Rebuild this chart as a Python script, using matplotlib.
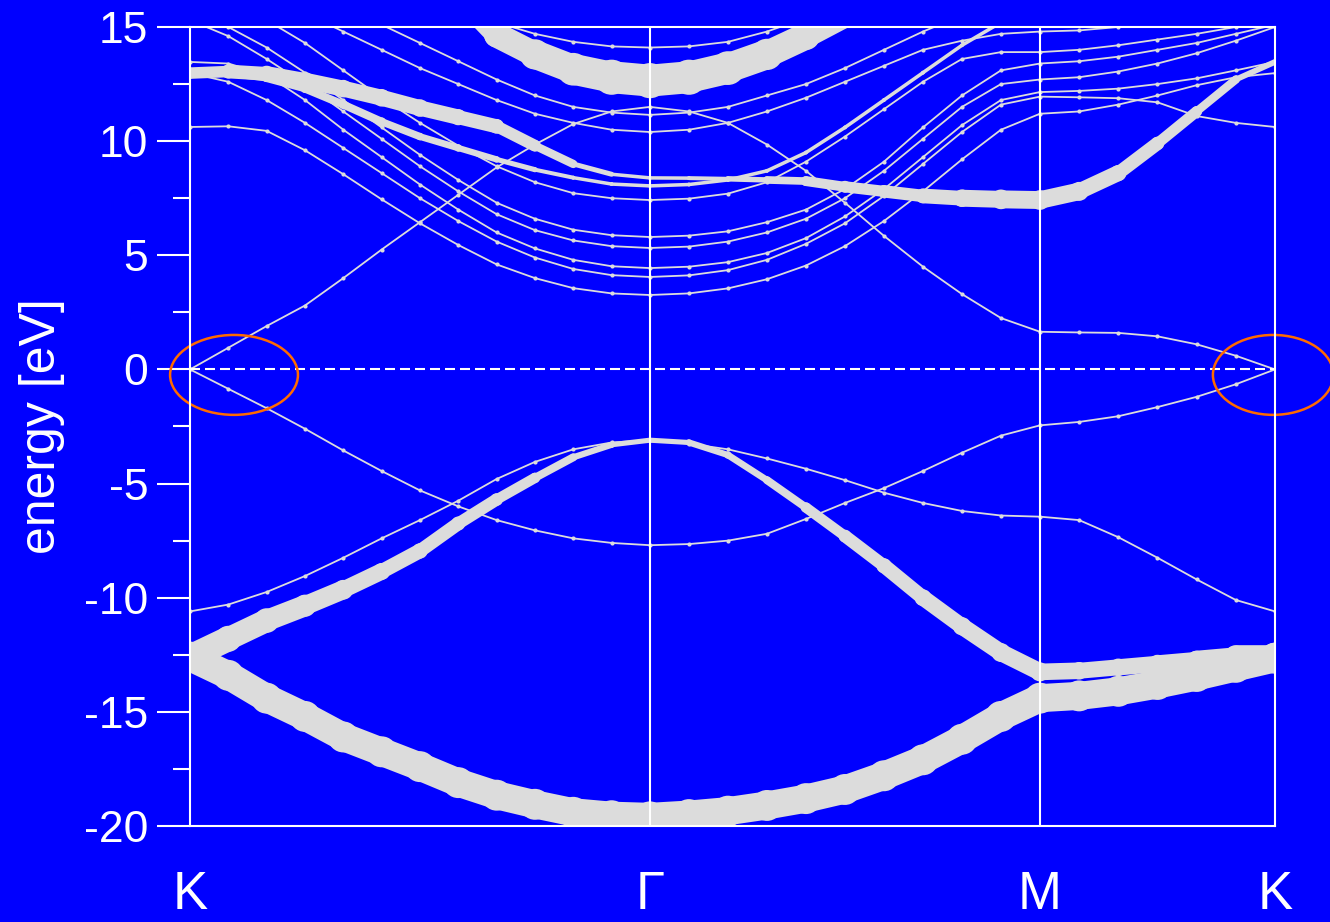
import matplotlib
matplotlib.use("Agg")
import matplotlib.pyplot as plt
import numpy as np
from matplotlib.collections import LineCollection
from matplotlib.patches import Ellipse

plt.rcParams["axes.unicode_minus"] = False

# path K - Γ - M - K
sym_labels = ["K", "Γ", "M", "K"]
sym_k = [0.0, 1.0, 1.848, 2.359]
n_seg = [12, 10, 6]

# band energies (eV) at the path nodes: 13 on K-Γ, 10 on Γ-M, 6 on M-K
sigma_1 = [-12.6, -13.4, -14.4, -15.2, -16.1, -16.75, -17.4, -18.1, -18.65, -19.05, -19.4, -19.55, -19.6,
           -19.5, -19.35, -19.1, -18.8, -18.4, -17.8, -17.1, -16.2, -15.2, -14.4,
           -14.3, -14.1, -13.8, -13.45, -13.05, -12.65]
sigma_2 = [-12.6, -11.8, -11.0, -10.35, -9.65, -8.85, -7.95, -6.75, -5.7, -4.75, -3.85, -3.3, -3.1,
           -3.2, -3.75, -4.85, -6.05, -7.3, -8.6, -10.0, -11.25, -12.4, -13.25,
           -13.2, -13.05, -12.9, -12.75, -12.6, -12.6]
sigma_3 = [-10.6, -10.3, -9.75, -9.05, -8.25, -7.4, -6.6, -5.75, -4.8, -4.05, -3.5, -3.2, -3.1,
           -3.25, -3.5, -3.9, -4.35, -4.85, -5.4, -5.85, -6.2, -6.4, -6.45,
           -6.6, -7.35, -8.25, -9.2, -10.1, -10.6]
pi_band = [0.0, -0.85, -1.7, -2.6, -3.55, -4.45, -5.3, -6.0, -6.6, -7.05, -7.4, -7.6, -7.7,
           -7.65, -7.5, -7.2, -6.55, -5.85, -5.2, -4.45, -3.65, -2.9, -2.45,
           -2.3, -2.05, -1.65, -1.2, -0.65, 0.0]
pi_star = [0.0, 0.95, 1.9, 2.8, 4.0, 5.25, 6.45, 7.65, 8.85, 9.85, 10.75, 11.3, 11.5,
           11.3, 10.8, 9.85, 8.7, 7.3, 5.85, 4.5, 3.3, 2.25, 1.65,
           1.62, 1.6, 1.45, 1.1, 0.6, 0.0]
c_1 = [10.62, 10.65, 10.45, 9.6, 8.55, 7.45, 6.4, 5.45, 4.6, 4.0, 3.56, 3.33, 3.26,
       3.33, 3.55, 3.95, 4.55, 5.4, 6.5, 7.8, 9.2, 10.5, 11.2,
       11.3, 11.6, 12.0, 12.45, 12.8, 12.98]
c_2 = [12.98, 12.6, 11.8, 10.8, 9.7, 8.6, 7.5, 6.5, 5.6, 4.9, 4.4, 4.13, 4.05,
       4.12, 4.35, 4.8, 5.5, 6.4, 7.6, 9.0, 10.4, 11.6, 11.95,
       11.92, 11.88, 11.7, 11.1, 10.8, 10.62]
c_3 = [13.47, 13.4, 12.9, 11.8, 10.5, 9.3, 8.1, 7.0, 6.0, 5.3, 4.8, 4.52, 4.44,
       4.5, 4.7, 5.1, 5.75, 6.7, 7.9, 9.3, 10.7, 11.8, 12.15,
       12.2, 12.3, 12.5, 12.75, 13.1, 13.47]
c_4 = [15.3, 14.6, 13.6, 12.5, 11.3, 10.1, 8.9, 7.8, 6.8, 6.1, 5.65, 5.4, 5.32,
       5.38, 5.6, 6.0, 6.6, 7.5, 8.7, 10.1, 11.5, 12.5, 12.7,
       12.8, 13.05, 13.4, 13.85, 14.4, 15.0]
c_5 = [15.6, 15.0, 14.1, 13.0, 11.8, 10.6, 9.4, 8.3, 7.3, 6.6, 6.12, 5.88, 5.8,
       5.86, 6.05, 6.45, 7.0, 7.9, 9.1, 10.6, 12.0, 13.1, 13.4,
       13.5, 13.7, 14.0, 14.3, 14.7, 15.1]
c_6 = [16.5, 16.0, 15.3, 14.3, 13.1, 11.9, 10.8, 9.8, 8.9, 8.2, 7.72, 7.5, 7.42,
       7.48, 7.7, 8.2, 9.1, 10.2, 11.4, 12.6, 13.6, 13.9, 13.9,
       14.0, 14.2, 14.45, 14.7, 15.0, 15.3]
c_7 = [18.0, 17.2, 16.4, 15.6, 14.8, 14.0, 13.2, 12.5, 11.8, 11.2, 10.8, 10.5, 10.4,
       10.5, 10.8, 11.3, 11.9, 12.6, 13.3, 14.0, 14.4, 14.7, 14.8,
       14.85, 15.0, 15.3, 15.6, 16.0, 16.4]
c_8 = [19.0, 18.3, 17.5, 16.7, 15.9, 15.1, 14.3, 13.5, 12.7, 12.0, 11.5, 11.25, 11.15,
       11.25, 11.5, 12.0, 12.5, 13.2, 14.0, 14.8, 15.5, 16.0, 16.5,
       16.8, 17.0, 17.0, 17.0, 17.0, 17.0]
c_9 = [21.0, 20.5, 20.0, 19.5, 19.0, 18.5, 17.5, 16.5, 15.2, 14.7, 14.35, 14.15, 14.1,
       14.15, 14.35, 14.8, 15.4, 16.2, 17.0, 18.0, 19.0, 20.0, 20.5,
       21.0, 21.0, 21.0, 21.0, 21.0, 21.0]
fat_a = [12.98, 13.05, 12.95, 12.65, 12.3, 11.9, 11.45, 11.05, 10.65, 9.8, 9.0, 8.55, 8.39,
         8.38, 8.35, 8.3, 8.25, 8.0, 7.8, 7.6, 7.5, 7.45, 7.42,
         7.8, 8.6, 9.9, 11.3, 12.7, 13.47]
fat_b = [13.0, 12.95, 12.75, 12.3, 11.6, 10.85, 10.2, 9.7, 9.2, 8.75, 8.4, 8.12, 8.04,
         8.1, 8.3, 8.7, 9.5, 10.6, 11.8, 13.0, 14.2, 15.2, 16.0,
         16.3, 16.5, 16.6, 16.6, 16.5, 16.4]
fat_top = [21.0, 20.5, 20.0, 19.5, 19.0, 18.5, 17.5, 16.4, 14.65, 13.8, 13.15, 12.8, 12.65,
           12.8, 13.2, 13.8, 14.6, 15.5, 16.5, 17.5, 18.5, 19.5, 20.0,
           20.5, 21.0, 21.0, 21.0, 21.0, 21.0]

# projected weights of the fat bands
w_sigma_1 = [0.88] * 29
w_sigma_2 = [0.82, 0.74, 0.7, 0.63, 0.56, 0.48, 0.44, 0.4, 0.36, 0.29, 0.21, 0.18, 0.14,
             0.18, 0.21, 0.21, 0.29, 0.36, 0.43, 0.48, 0.52, 0.54, 0.54,
             0.5, 0.5, 0.52, 0.56, 0.66, 0.82]
w_fat_a = [0.32, 0.4, 0.46, 0.5, 0.5, 0.5, 0.5, 0.46, 0.42, 0.32, 0.2, 0.11, 0.11,
           0.11, 0.14, 0.2, 0.28, 0.34, 0.36, 0.42, 0.5, 0.56, 0.56,
           0.54, 0.46, 0.38, 0.3, 0.22, 0.14]
w_fat_b = [0.11, 0.18, 0.21, 0.25, 0.25, 0.25, 0.21, 0.21, 0.18, 0.14, 0.11, 0.11, 0.11,
           0.11, 0.11, 0.11, 0.11, 0.11, 0.11, 0.11, 0.11, 0.11, 0.11,
           0.11, 0.11, 0.11, 0.11, 0.11, 0.11]
w_fat_top = [0.64, 0.64, 0.64, 0.64, 0.64, 0.64, 0.64, 0.64, 0.71, 0.86, 0.93, 1.0, 1.0,
             1.0, 0.96, 0.89, 0.79, 0.71, 0.64, 0.64, 0.64, 0.64, 0.64,
             0.64, 0.64, 0.64, 0.64, 0.64, 0.64]

blue = "#0000ff"
band_color = "#dcdcdc"

k = np.concatenate([np.linspace(sym_k[0], sym_k[1], n_seg[0] + 1),
                    np.linspace(sym_k[1], sym_k[2], n_seg[1] + 1)[1:],
                    np.linspace(sym_k[2], sym_k[3], n_seg[2] + 1)[1:]])

fig = plt.figure(figsize=(13.3, 9.22), dpi=100, facecolor=blue)
ax = fig.add_axes([190 / 1330, 96 / 922, 1085 / 1330, 799 / 922])
ax.set_facecolor(blue)

thin = [sigma_3, pi_band, pi_star, c_1, c_2, c_3, c_4, c_5, c_6, c_7, c_8, c_9]
for e in thin:
    ax.plot(k, e, color=band_color, lw=1.3, marker="o", ms=3, mec="none", zorder=2)


def fat_band(e, w, scale=23.0):
    # thick line whose width follows the orbital weight, plus a dot at each node
    pts = np.column_stack([k, e])
    segs = np.stack([pts[:-1], pts[1:]], axis=1)
    w = np.asarray(w)
    lw = 0.5 * (w[:-1] + w[1:]) * scale
    lc = LineCollection(segs, linewidths=lw, colors=band_color,
                        capstyle="round", joinstyle="round", zorder=3)
    ax.add_collection(lc)
    ax.scatter(k, e, s=(w * scale * 1.1) ** 2, color=band_color, lw=0, zorder=3)


fat_band(sigma_1, w_sigma_1)
fat_band(sigma_2, w_sigma_2)
fat_band(fat_a, w_fat_a)
fat_band(fat_b, w_fat_b)
fat_band(fat_top, w_fat_top)

for x in sym_k[1:3]:
    ax.axvline(x, color="white", lw=1.5, zorder=5)
ax.axhline(0, color="white", lw=1.5, dashes=(4.8, 2.4), zorder=5)

# Dirac cones at K
for xc, wd in [(0.0957, 0.278), (2.355, 0.262)]:
    ax.add_patch(Ellipse((xc, -0.24), wd, 3.5, fill=False, ec="#ff6a00",
                         lw=1.8, clip_on=False, zorder=6))

ax.set_xlim(sym_k[0], sym_k[-1])
ax.set_ylim(-20, 15)
for s in ax.spines.values():
    s.set_color("white")
    s.set_linewidth(1.5)
    s.set_zorder(6)

ax.set_yticks(np.arange(-20, 16, 5))
ax.set_yticks(np.arange(-17.5, 15, 5), minor=True)
ax.tick_params(axis="y", which="major", length=24, width=1.5, color="white",
               labelcolor="white", labelsize=32, pad=6)
ax.tick_params(axis="y", which="minor", length=12, width=1.5, color="white")
for lab in ax.get_yticklabels():
    lab.set_family("Liberation Sans")

ax.set_xticks(sym_k)
ax.set_xticklabels(sym_labels, family=["Liberation Sans Narrow", "Liberation Sans"],
                   fontsize=38, color="white")
ax.tick_params(axis="x", length=0, pad=32)

ax.set_ylabel("energy [eV]", family="Liberation Sans", fontsize=36, color="white")
ax.yaxis.set_label_coords(-0.115, 0.5)

fig.savefig("out.png", dpi=100, facecolor=blue)
